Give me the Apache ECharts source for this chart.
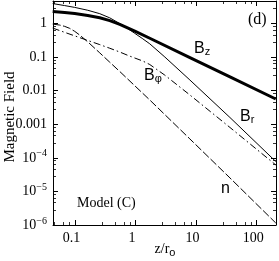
<!DOCTYPE html>
<html><head><meta charset="utf-8">
<script src="https://cdn.jsdelivr.net/npm/echarts@6/dist/echarts.min.js"></script>
<style>html,body{margin:0;padding:0;background:#fff}#c{width:279px;height:261px}</style>
</head><body><div id="c"></div>
<script>
// ---- data ----
const bzX = [0.043, 0.0678, 0.0993, 0.163, 0.257, 0.376, 0.55, 0.974, 1.72, 7.9, 36.2, 206];
const bzY = [2.28, 2.14, 1.98, 1.75, 1.49, 1.22, 0.947, 0.598, 0.365, 0.0973, 0.0259, 0.00566];
const brX = [0.043, 0.0678, 0.0993, 0.163, 0.257, 0.376, 0.55, 0.746, 0.974, 1.32, 1.72, 3.05, 7.9, 36.2, 206];
const brY = [3.94, 3.43, 3.03, 2.49, 1.97, 1.48, 1.0, 0.710, 0.511, 0.351, 0.249, 0.1007, 0.0208, 0.00159, 7.8e-5];
const bphiX = [0.043, 0.0678, 0.0993, 0.163, 0.257, 0.376, 0.55, 0.746, 0.974, 1.32, 1.72, 3.05, 7.9, 36.2, 206];
const bphiY = [0.734, 0.547, 0.430, 0.314, 0.236, 0.184, 0.142, 0.113, 0.094, 0.0766, 0.0602, 0.0290, 0.00745, 8.03e-4, 6.15e-5];
const nX = [0.043, 0.0561, 0.0678, 0.082, 0.0993, 0.120, 0.163, 0.257, 0.376, 0.55, 0.974, 1.72, 7.9, 36.2, 206];
const nY = [0.966, 0.902, 0.825, 0.720, 0.586, 0.455, 0.285, 0.134, 0.0705, 0.0373, 0.0140, 0.00529, 3.65e-4, 2.52e-5, 1.15e-6];
const yTickLabels = {'1':'1','0.1':'0.1','0.01':'0.01','0.001':'0.001','0.0001':'10{s|−4}','0.00001':'10{s|−5}','0.000001':'10{s|−6}'};
const xTickLabels = ['0.1','1','10','100'];

const pairs = (xs, ys) => xs.map((x, i) => [x, ys[i]]);
const serif = '"Liberation Serif", "DejaVu Serif", serif';
const sans = '"Liberation Sans", Arial, sans-serif';

const chart = echarts.init(document.getElementById('c'), null, {renderer: 'canvas'});
const axisLine = {show: true, lineStyle: {color: '#000', width: 1}};
const tick = {show: true, inside: true, length: 5, lineStyle: {color: '#000', width: 1}};
const minor = {show: true, length: 3, lineStyle: {color: '#000', width: 0.8}};
const xmin = 0.0435, xmax = 208, ymin = 1e-6, ymax = 4.7;

function yLabel(v) {
  for (const k in yTickLabels) { if (Math.abs(Math.log10(+k) - Math.log10(v)) < 0.01) return yTickLabels[k]; }
  return '';
}
function xLabel(v) {
  for (const k of xTickLabels) { if (Math.abs(Math.log10(+k) - Math.log10(v)) < 0.01) return k; }
  return '';
}
const lineBase = {type: 'line', showSymbol: false, smooth: false};
const subRich = (s) => ({b: {font: '16px ' + sans, fill: '#000'}, s: {font: '11px ' + sans, fill: '#000', verticalAlign: 'bottom', padding: [6, 0, 0, 0]}});

chart.setOption({
  animation: false,
  grid: {left: 53, right: 3, top: 1, bottom: 36, show: false, containLabel: false, outerBoundsMode: 'none'},
  xAxis: [
    {type: 'log', logBase: 10, min: xmin, max: xmax, position: 'bottom',
     axisLine, axisTick: tick, minorTick: minor, splitLine: {show: false},
     axisLabel: {formatter: xLabel, color: '#000', fontFamily: serif, fontSize: 14, margin: 6, padding: [0, 7, 0, 0]}},
    {type: 'log', logBase: 10, min: xmin, max: xmax, position: 'top',
     axisLine, axisTick: tick, minorTick: minor, splitLine: {show: false}, axisLabel: {show: false}}
  ],
  yAxis: [
    {type: 'log', logBase: 10, min: ymin, max: ymax, position: 'left', splitNumber: 7,
     axisLine, axisTick: tick, minorTick: minor, splitLine: {show: false},
     axisLabel: {formatter: yLabel, color: '#000', fontFamily: serif, fontSize: 14, margin: 6,
       rich: {s: {fontFamily: serif, fontSize: 10, color: '#000', verticalAlign: 'top', padding: [0, 0, 8, 0]}}}},
    {type: 'log', logBase: 10, min: ymin, max: ymax, position: 'right', splitNumber: 7,
     axisLine, axisTick: tick, minorTick: minor, splitLine: {show: false}, axisLabel: {show: false}}
  ],
  series: [
    Object.assign({name: 'Bz', data: pairs(bzX, bzY), lineStyle: {color: '#000', width: 3}}, lineBase),
    Object.assign({name: 'Br', data: pairs(brX, brY), lineStyle: {color: '#000', width: 1}}, lineBase),
    Object.assign({name: 'Bphi', data: pairs(bphiX, bphiY), lineStyle: {color: '#000', width: 1, type: [7, 3, 1.5, 3]}}, lineBase),
    Object.assign({name: 'n', data: pairs(nX, nY), lineStyle: {color: '#000', width: 1, type: [8, 2.5]}}, lineBase)
  ],
  graphic: [
    {type: 'text', x: 10, y: 117, rotation: Math.PI / 2,
     style: {text: 'Magnetic Field', font: '15px ' + serif, fill: '#000', align: 'center', verticalAlign: 'middle'}},
    {type: 'text', x: 165, y: 249,
     style: {text: '{a|z/r}{b|o}', align: 'center', verticalAlign: 'middle',
       rich: {a: {font: '14px ' + serif, fill: '#000'}, b: {font: '11px ' + sans, fill: '#000', verticalAlign: 'bottom', padding: [8, 0, 0, 0]}}}},
    {type: 'text', left: 248, top: 12, style: {text: '(d)', font: '16px ' + serif, fill: '#000'}},
    {type: 'text', left: 194, top: 41, style: {text: '{b|B}{s|z}', rich: subRich()}},
    {type: 'text', left: 144, top: 68, style: {text: '{b|B}{s|φ}', rich: subRich()}},
    {type: 'text', left: 240, top: 109, style: {text: '{b|B}{s|r}', rich: subRich()}},
    {type: 'text', left: 221, top: 181, style: {text: 'n', font: '16px ' + sans, fill: '#000'}},
    {type: 'text', left: 77, top: 196, style: {text: 'Model (C)', font: '14px ' + serif, fill: '#000'}}
  ]
});
</script></body></html>
